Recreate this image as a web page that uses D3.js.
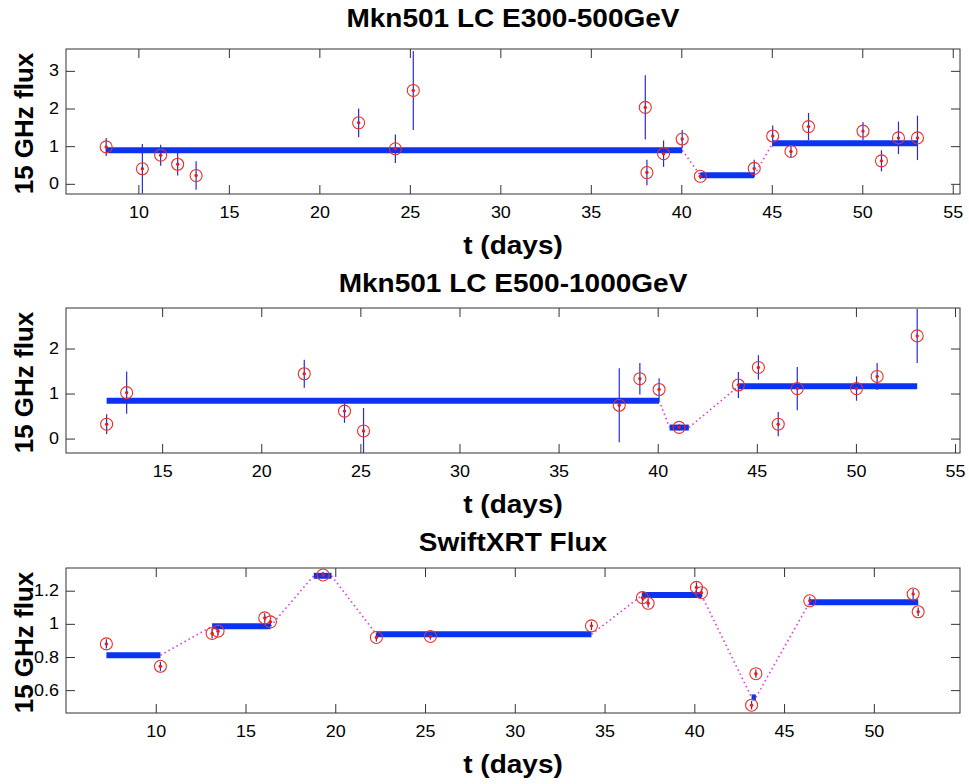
<!DOCTYPE html>
<html>
<head>
<meta charset="utf-8">
<script src="https://cdn.jsdelivr.net/npm/d3@7"></script>
<style>
  body { margin: 0; background: #fff; }
  text { font-family: "Liberation Sans", Arial, Helvetica, sans-serif; }
</style>
</head>
<body>
<svg id="chart" width="969" height="784"></svg>
<script>
// ---- panel 1 : Mkn501 E300-500GeV ----
var t1 = [8.22, 10.22, 11.23, 12.17, 13.19, 22.17, 24.2, 25.19, 38.01, 38.1, 39.02, 40.05, 41.05, 44.03, 45.05, 46.06, 47.03, 50.04, 51.06, 52.0, 53.05];
var f1 = [0.98, 0.40, 0.76, 0.52, 0.22, 1.62, 0.93, 2.48, 2.03, 0.30, 0.80, 1.19, 0.20, 0.41, 1.27, 0.86, 1.52, 1.40, 0.61, 1.22, 1.22];
var e1 = [0.24, 0.66, 0.28, 0.30, 0.38, 0.38, 0.38, 1.05, 0.85, 0.34, 0.35, 0.24, 0.08, 0.23, 0.28, 0.16, 0.36, 0.24, 0.28, 0.43, 0.59];
var b1Start = [8.22, 41.05, 45.05];
var b1End   = [40.05, 44.03, 53.05];
var b1Level = [0.89, 0.23, 1.08];
var ticksX1 = [10, 15, 20, 25, 30, 35, 40, 45, 50, 55];
var ticksY1 = [0, 1, 2, 3];

// ---- panel 2 : Mkn501 E500-1000GeV ----
var t2 = [12.2, 13.21, 22.17, 24.2, 25.16, 38.06, 39.1, 40.07, 41.08, 44.07, 45.08, 46.08, 47.04, 50.03, 51.07, 53.09];
var f2 = [0.32, 1.02, 1.44, 0.61, 0.17, 0.74, 1.33, 1.09, 0.25, 1.19, 1.58, 0.32, 1.11, 1.11, 1.38, 2.28];
var e2 = [0.22, 0.47, 0.31, 0.26, 0.51, 0.82, 0.35, 0.25, 0.07, 0.29, 0.27, 0.27, 0.48, 0.27, 0.30, 0.60];
var b2Start = [12.2, 40.6, 44.07];
var b2End   = [40.07, 41.57, 53.09];
var b2Level = [0.84, 0.245, 1.16];
var ticksX2 = [15, 20, 25, 30, 35, 40, 45, 50, 55];
var ticksY2 = [0, 1, 2];

// ---- panel 3 : SwiftXRT ----
var t3 = [7.25, 10.26, 13.14, 13.47, 16.07, 16.39, 19.32, 22.29, 25.3, 34.27, 37.11, 37.43, 40.12, 40.4, 43.19, 43.43, 46.43, 52.19, 52.47];
var f3 = [0.879, 0.744, 0.942, 0.956, 1.036, 1.012, 1.295, 0.918, 0.924, 0.988, 1.158, 1.124, 1.22, 1.188, 0.509, 0.699, 1.139, 1.18, 1.073];
var e3 = [0.028, 0.028, 0.03, 0.025, 0.028, 0.025, 0.02, 0.025, 0.02, 0.025, 0.03, 0.025, 0.03, 0.025, 0.025, 0.025, 0.025, 0.03, 0.025];
var b3Start = [7.25, 13.14, 18.8, 22.29, 37.11, 43.19, 46.43];
var b3End   = [10.26, 16.39, 19.79, 34.27, 40.4, 43.43, 52.47];
var b3Level = [0.81, 0.986, 1.29, 0.937, 1.174, 0.556, 1.131];
var ticksX3 = [10, 15, 20, 25, 30, 35, 40, 45, 50];
var ticksY3 = [0.6, 0.8, 1, 1.2];

var titles = ["Mkn501 LC E300-500GeV", "Mkn501 LC E500-1000GeV", "SwiftXRT Flux"];

var svg = d3.select("#chart");
var left = 66, right = 960;

var panels = [
    {t: t1, f: f1, e: e1, bs: b1Start, be: b1End, bl: b1Level, tx: ticksX1, ty: ticksY1,
     xd: [6, 55.4], yd: [-0.27, 3.58], top: 49, bottom: 194, title: titles[0], titleY: 27},
    {t: t2, f: f2, e: e2, bs: b2Start, be: b2End, bl: b2Level, tx: ticksX2, ty: ticksY2,
     xd: [10.15, 55.25], yd: [-0.32, 2.9], top: 308, bottom: 453, title: titles[1], titleY: 292},
    {t: t3, f: f3, e: e3, bs: b3Start, be: b3End, bl: b3Level, tx: ticksX3, ty: ticksY3,
     xd: [5, 54.8], yd: [0.462, 1.337], top: 568, bottom: 713, title: titles[2], titleY: 551}
];

function stretch(sel, k) {
    sel.each(function () {
        var w = this.getComputedTextLength();
        d3.select(this).attr("textLength", w * k).attr("lengthAdjust", "spacingAndGlyphs");
    });
}

panels.forEach(function (p, idx) {
    var x = d3.scaleLinear().domain(p.xd).range([left, right]);
    var y = d3.scaleLinear().domain(p.yd).range([p.bottom, p.top]);

    var clipId = "clip" + idx;
    svg.append("clipPath").attr("id", clipId)
        .append("rect")
        .attr("x", left).attr("y", p.top)
        .attr("width", right - left).attr("height", p.bottom - p.top);

    var g = svg.append("g");
    var fmt = function (d) { return d3.format("~g")(d); };

    // axes, ticks pointing inward on all four sides
    var xb = g.append("g").attr("transform", "translate(0," + p.bottom + ")")
        .call(d3.axisBottom(x).tickValues(p.tx).tickSizeInner(-9).tickSizeOuter(0).tickPadding(13).tickFormat(fmt));
    g.append("g").attr("transform", "translate(0," + p.top + ")")
        .call(d3.axisTop(x).tickValues(p.tx).tickSizeInner(-9).tickSizeOuter(0).tickFormat(""));
    var yl = g.append("g").attr("transform", "translate(" + left + ",0)")
        .call(d3.axisLeft(y).tickValues(p.ty).tickSizeInner(-9).tickSizeOuter(0).tickPadding(7).tickFormat(fmt));
    g.append("g").attr("transform", "translate(" + right + ",0)")
        .call(d3.axisRight(y).tickValues(p.ty).tickSizeInner(-9).tickSizeOuter(0).tickFormat(""));

    g.selectAll(".domain").remove();
    g.selectAll(".tick line").attr("stroke", "#333");
    g.selectAll(".tick text").attr("font-size", 16).attr("fill", "#000")
        .style("font-family", '"Liberation Sans", Arial, sans-serif');
    stretch(xb.selectAll(".tick text"), 1.12);
    stretch(yl.selectAll(".tick text"), 1.12);

    g.append("rect")
        .attr("x", left).attr("y", p.top)
        .attr("width", right - left).attr("height", p.bottom - p.top)
        .attr("fill", "none").attr("stroke", "#333").attr("stroke-width", 1);

    var data = g.append("g").attr("clip-path", "url(#" + clipId + ")");

    // dotted links between blocks
    var links = d3.range(p.bs.length - 1);
    data.selectAll(".link").data(links).enter().append("line")
        .attr("x1", function (i) { return x(p.be[i]); })
        .attr("y1", function (i) { return y(p.bl[i]); })
        .attr("x2", function (i) { return x(p.bs[i + 1]); })
        .attr("y2", function (i) { return y(p.bl[i + 1]); })
        .attr("stroke", "#d448d8").attr("stroke-width", 1.6)
        .attr("stroke-dasharray", "1.6,3");

    // blocks
    data.selectAll(".block").data(p.bs).enter().append("line")
        .attr("x1", function (d) { return x(d); })
        .attr("x2", function (d, i) { return x(p.be[i]); })
        .attr("y1", function (d, i) { return y(p.bl[i]); })
        .attr("y2", function (d, i) { return y(p.bl[i]); })
        .attr("stroke", "#0c33f2").attr("stroke-width", 6);

    // error bars
    data.selectAll(".err").data(p.t).enter().append("line")
        .attr("x1", function (d) { return x(d); })
        .attr("x2", function (d) { return x(d); })
        .attr("y1", function (d, i) { return y(p.f[i] - p.e[i]); })
        .attr("y2", function (d, i) { return y(p.f[i] + p.e[i]); })
        .attr("stroke", "#2a2ad6").attr("stroke-width", 1.2);

    // markers
    data.selectAll(".mk").data(p.t).enter().append("circle")
        .attr("cx", function (d) { return x(d); })
        .attr("cy", function (d, i) { return y(p.f[i]); })
        .attr("r", 6)
        .attr("fill", "none").attr("stroke", "#e8302a").attr("stroke-width", 1.1);
    data.selectAll(".dot").data(p.t).enter().append("circle")
        .attr("cx", function (d) { return x(d); })
        .attr("cy", function (d, i) { return y(p.f[i]); })
        .attr("r", 1.7)
        .attr("fill", "#f01a10");

    // labels
    var cx = (left + right) / 2;
    var tt = svg.append("text").attr("x", cx).attr("y", p.titleY)
        .attr("text-anchor", "middle").attr("font-size", 25).attr("font-weight", "bold")
        .text(p.title);
    stretch(tt, 1.12);

    var xl = svg.append("text").attr("x", cx).attr("y", p.bottom + 60)
        .attr("text-anchor", "middle").attr("font-size", 25).attr("font-weight", "bold")
        .text("t (days)");
    stretch(xl, 1.12);

    var cy = (p.top + p.bottom) / 2 + 2;
    var ylab = svg.append("text")
        .attr("transform", "translate(33," + cy + ") rotate(-90)")
        .attr("text-anchor", "middle").attr("font-size", 25).attr("font-weight", "bold")
        .text("15 GHz flux");
    stretch(ylab, 1.04);
});
</script>
</body>
</html>
